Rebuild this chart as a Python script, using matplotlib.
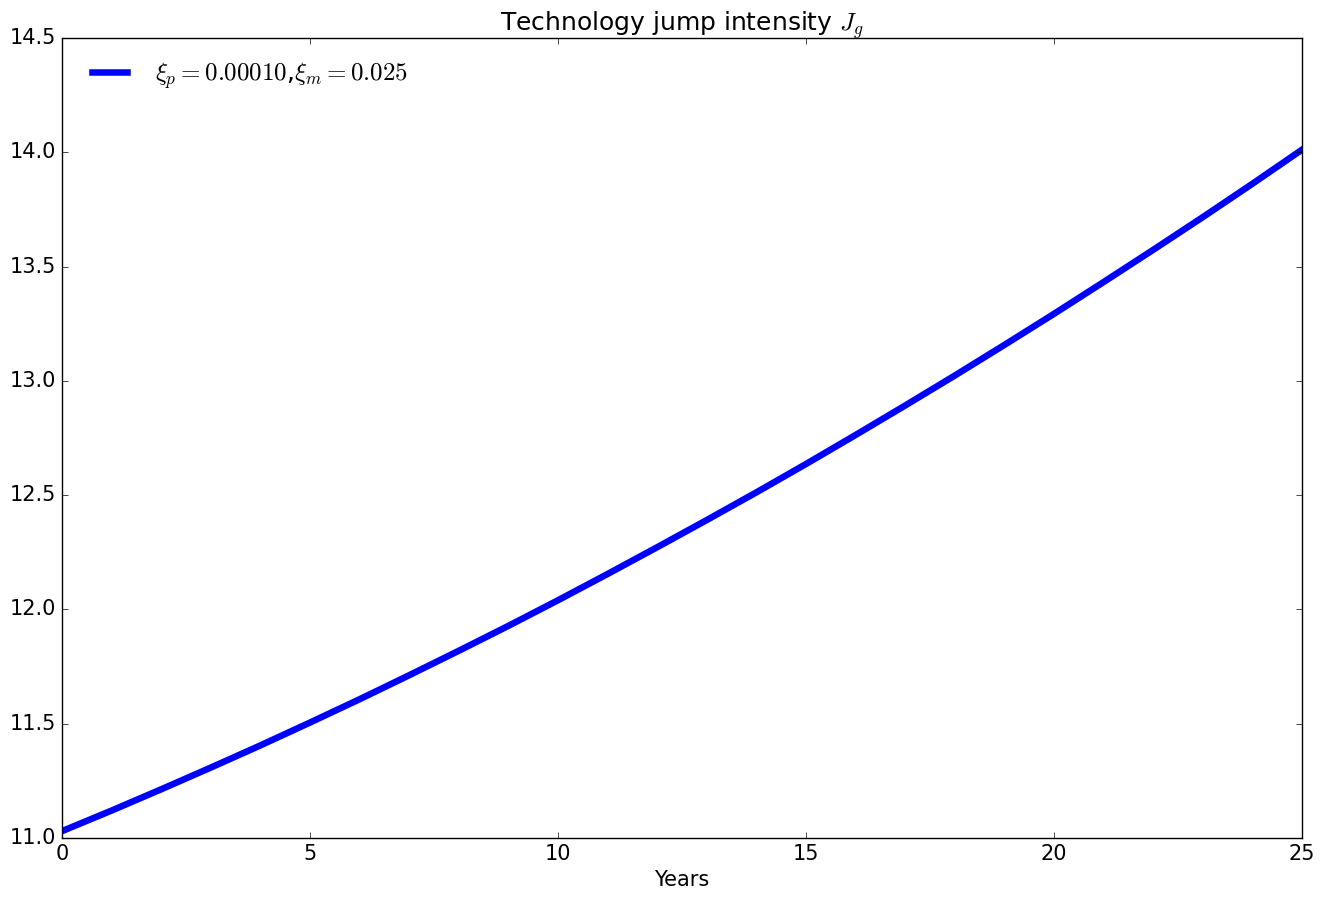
import matplotlib
matplotlib.use("Agg")
import matplotlib.pyplot as plt

plt.style.use("classic")

years = list(range(0, 26))
jump_intensity = [11.030, 11.120, 11.213, 11.308, 11.405, 11.505, 11.607, 11.712, 11.819, 11.928,
                  12.040, 12.155, 12.272, 12.391, 12.512, 12.636, 12.763, 12.892, 13.023, 13.157,
                  13.293, 13.432, 13.573, 13.716, 13.862, 14.011]
series_label = r"$\xi_p=0.00010$,$\xi_m=0.025$"
title = r"Technology jump intensity $J_g$"

plt.rcParams["font.size"] = 15

fig = plt.figure(figsize=(13.25, 9), dpi=100)
ax = fig.add_subplot(111)
ax.plot(years, jump_intensity, color="blue", linewidth=4.7, label=series_label,
        solid_joinstyle="round")
ax.set_xlim(0, 25)
ax.set_ylim(11.0, 14.5)
ax.set_xlabel("Years", fontsize=15)
ax.set_title(title, fontsize=18)
ax.legend(loc="upper left", frameon=False, fontsize=18, handlelength=2.0)
ax.tick_params(labelsize=15)
fig.subplots_adjust(left=0.0468, right=0.9826, top=0.9578, bottom=0.0689)
fig.savefig("out.png", dpi=100)
